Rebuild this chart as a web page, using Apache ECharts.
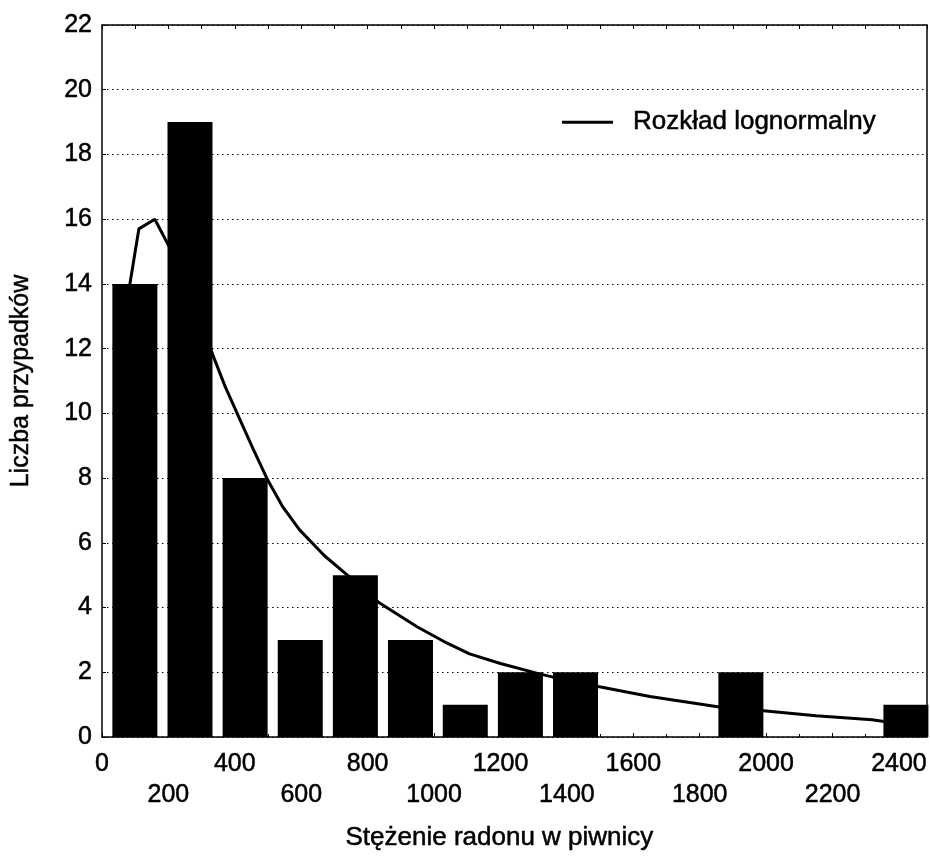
<!DOCTYPE html>
<html>
<head>
<meta charset="utf-8">
<script src="https://cdn.jsdelivr.net/npm/echarts@6/dist/echarts.min.js"></script>
<style>
  html, body { margin: 0; padding: 0; background: #fff; }
  #chart { width: 930px; height: 858px; }
</style>
</head>
<body>
<div id="chart"></div>
<script>
// histogram bins (bin centres) and counts
var binCenters = [99, 265, 431, 597, 763, 929, 1094, 1260, 1426, 1924, 2421];
var counts = [14, 19, 8, 3, 5, 3, 1, 2, 2, 2, 1];

// fitted lognormal curve
var curveX = [60, 84, 111, 159, 205, 270, 334, 370, 409, 455, 499, 545, 595, 670, 746, 836, 950, 1030, 1107, 1200, 1317, 1400, 1498, 1650, 1859, 2000, 2150, 2319, 2355, 2484];
var curveY = [10, 14.0, 15.7, 16.0, 15.1, 13.8, 11.8, 10.85, 9.95, 8.9, 7.94, 7.1, 6.4, 5.6, 4.94, 4.14, 3.4, 2.95, 2.57, 2.27, 1.95, 1.75, 1.55, 1.25, 0.93, 0.8, 0.66, 0.53, 0.48, 0.4];

var xMax = 2484;
var font = "'Liberation Sans', Arial, sans-serif";
// scanned print: text slightly heavier than plain regular
var ink = { color: "#000", textBorderColor: "#000", textBorderWidth: 0.5 };

var chart = echarts.init(document.getElementById("chart"));

var barData = binCenters.map(function (x, i) { return [x, counts[i]]; });
var lineData = curveX.map(function (x, i) { return [x, curveY[i]]; });

var option = {
  backgroundColor: "#fff",
  animation: false,
  grid: { left: 102, right: 2, top: 25, bottom: 121 },
  legend: {
    left: 562,
    top: 109,
    padding: 0,
    icon: "rect",
    itemWidth: 51,
    itemHeight: 3,
    data: ["Rozkład lognormalny"],
    textStyle: Object.assign({ fontFamily: font, fontSize: 26, padding: [0, 0, 0, 15] }, ink)
  },
  xAxis: [
    {
      type: "value",
      min: 0,
      max: xMax,
      interval: 200,
      name: "Stężenie radonu w piwnicy",
      nameLocation: "middle",
      nameGap: 88,
      nameTextStyle: Object.assign({ fontFamily: font, fontSize: 26, padding: [0, 30, 0, 0] }, ink),
      axisLine: { lineStyle: { color: "#000", width: 1.5 } },
      axisTick: { inside: true, length: 4, lineStyle: { color: "#000" } },
      minorTick: { show: true, splitNumber: 2, length: 3, lineStyle: { color: "#000" } },
      splitLine: { show: false },
      axisLabel: Object.assign({
        fontFamily: font,
        fontSize: 25,
        margin: 12,
        lineHeight: 31,
        showMaxLabel: false,
        formatter: function (v) {
          return v % 400 === 0 ? String(v) : "\n" + v;
        }
      }, ink)
    },
    {
      type: "value",
      position: "top",
      min: 0,
      max: xMax,
      interval: 100,
      axisLine: { show: true, onZero: false, lineStyle: { color: "#000", width: 1.5 } },
      axisTick: { show: true, inside: true, length: 4, lineStyle: { color: "#000" } },
      axisLabel: { show: false },
      splitLine: { show: false }
    }
  ],
  yAxis: [
    {
      type: "value",
      min: 0,
      max: 22,
      interval: 2,
      name: "Liczba przypadków",
      nameLocation: "middle",
      nameGap: 68,
      nameTextStyle: Object.assign({ fontFamily: font, fontSize: 25 }, ink),
      axisLine: { show: true, onZero: false, lineStyle: { color: "#000", width: 1.5 } },
      axisTick: { show: true, inside: true, length: 4, lineStyle: { color: "#000" } },
      axisLabel: Object.assign({ fontFamily: font, fontSize: 25, margin: 10 }, ink),
      splitLine: { show: true, lineStyle: { color: "#000", width: 1.2, type: [1.5, 3.5] } }
    },
    {
      type: "value",
      position: "right",
      min: 0,
      max: 22,
      interval: 2,
      axisLine: { show: true, onZero: false, lineStyle: { color: "#000", width: 1.5 } },
      axisTick: { show: false },
      axisLabel: { show: false },
      splitLine: { show: false }
    }
  ],
  series: [
    {
      name: "Rozkład lognormalny",
      type: "line",
      data: lineData,
      symbol: "none",
      z: 1,
      itemStyle: { color: "#000" },
      lineStyle: { color: "#000", width: 3 }
    },
    {
      name: "counts",
      type: "bar",
      data: barData,
      barWidth: 45,
      z: 2,
      itemStyle: { color: "#000" }
    }
  ]
};

chart.setOption(option);
</script>
</body>
</html>
